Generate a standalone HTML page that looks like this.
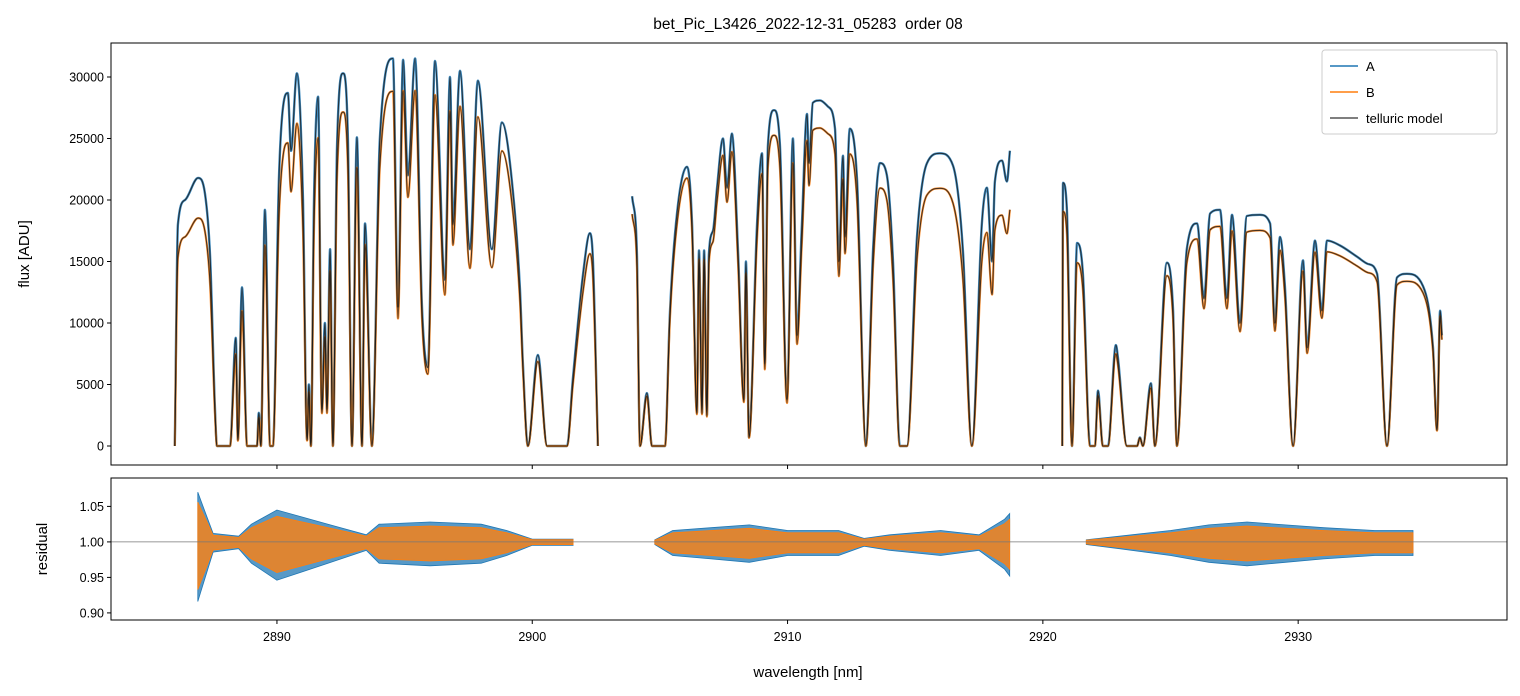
<!DOCTYPE html>
<html><head><meta charset="utf-8">
<style>
html,body{margin:0;padding:0;background:#fff;}
svg{display:block;font-family:"Liberation Sans","DejaVu Sans",sans-serif;}
</style></head>
<body>
<svg id="chart" width="1520" height="696" viewBox="0 0 1520 696">
<rect width="1520" height="696" fill="#fff"/>
<text x="808" y="29" font-size="15.5" text-anchor="middle" style="white-space:pre">bet_Pic_L3426_2022-12-31_05283  order 08</text>
<g id="topG"></g>
<g id="botG"></g>
<text transform="translate(29,254) rotate(-90)" font-size="15" text-anchor="middle">flux [ADU]</text>
<text transform="translate(47,549) rotate(-90)" font-size="15" text-anchor="middle">residual</text>
<text x="808" y="677" font-size="15" text-anchor="middle">wavelength [nm]</text>
<g id="legend">
<rect x="1322" y="50" width="175" height="84" rx="3" fill="#fff" fill-opacity="0.85" stroke="#ccc"/>
<line x1="1330" y1="66" x2="1358" y2="66" stroke="#1f77b4" stroke-width="1.5"/>
<text x="1366" y="71" font-size="13">A</text>
<line x1="1330" y1="92" x2="1358" y2="92" stroke="#ff7f0e" stroke-width="1.5"/>
<text x="1366" y="97" font-size="13">B</text>
<line x1="1330" y1="118" x2="1358" y2="118" stroke="#555" stroke-width="1.5"/>
<text x="1366" y="123" font-size="13">telluric model</text>
</g>
</svg>
<script>
// ---- data ----
const wavelengths = [2886.00,2886.12,2886.40,2886.91,2887.18,2887.38,2887.57,2887.65,2888.16,2888.39,2888.47,2888.63,2888.83,2889.22,2889.29,2889.37,2889.53,2889.73,2889.84,2890.08,2890.24,2890.43,2890.55,2890.78,2891.02,2891.18,2891.25,2891.33,2891.45,2891.61,2891.76,2891.88,2891.96,2892.08,2892.19,2892.35,2892.59,2892.78,2892.94,2893.13,2893.33,2893.45,2893.72,2894.03,2894.54,2894.74,2894.94,2895.13,2895.41,2895.68,2895.91,2896.19,2896.58,2896.78,2896.89,2897.17,2897.56,2897.87,2898.42,2898.81,2899.24,2899.52,2899.64,2899.83,2900.22,2900.58,2901.36,2901.59,2901.99,2902.26,2902.38,2902.57,null,
2903.91,2904.10,2904.22,2904.49,2904.69,2905.20,2905.39,2905.67,2906.06,2906.26,2906.45,2906.53,2906.65,2906.73,2906.84,2906.92,2907.08,2907.23,2907.47,2907.63,2907.82,2908.06,2908.29,2908.37,2908.49,2908.80,2909.00,2909.11,2909.23,2909.47,2909.70,2909.98,2910.21,2910.37,2910.56,2910.76,2910.84,2910.99,2911.27,2911.58,2911.86,2912.01,2912.17,2912.25,2912.44,2912.72,2913.07,2913.35,2913.62,2913.89,2914.13,2914.40,2914.68,2915.07,2915.46,2915.97,2916.48,2916.87,2917.22,2917.61,2917.81,2918.01,2918.12,2918.40,2918.59,2918.71,null,
2920.76,2920.79,2920.94,2921.14,2921.34,2921.57,2921.85,2922.04,2922.16,2922.35,2922.55,2922.86,2922.94,2923.29,2923.69,2923.80,2923.92,2924.23,2924.39,2924.86,2925.10,2925.25,2925.64,2926.04,2926.31,2926.55,2926.94,2927.21,2927.41,2927.72,2927.99,2928.50,2928.90,2929.09,2929.29,2929.48,2929.80,2930.19,2930.35,2930.66,2930.93,2931.13,2931.64,2932.30,2932.74,2933.09,2933.48,2933.87,2934.26,2934.89,2935.28,2935.44,2935.56,2935.63];
const fluxA = [0,18000,20000,21800,20500,15400,3200,0,0,8800,500,12900,0,0,2700,0,19200,0,0,21900,27600,28700,24000,30300,20000,500,5000,0,20000,28400,3000,10000,3000,16000,0,24000,30300,25000,0,25100,0,18100,0,24900,31500,11300,31400,22000,31500,11300,6400,31300,13500,30000,18000,30500,16000,29700,16000,26300,20800,12700,6400,0,7400,0,0,5400,14000,17300,15000,0,null,
20300,15700,0,4300,0,0,10800,18900,22700,18000,2700,15900,2700,15900,2500,15600,17500,20800,25000,21000,25400,15900,3800,15000,700,17800,23800,6700,24400,27300,24500,3800,25000,9000,18000,27000,23000,27900,28100,27600,25800,15000,23600,17000,25800,21700,0,16000,23000,22000,15000,0,0,17000,23000,23800,22800,15900,0,18000,21000,15000,21500,23200,21500,24000,null,
0,21400,19200,0,16500,14000,0,0,4500,0,0,8200,7200,0,0,700,0,5100,0,14900,11000,0,16000,18100,12000,18900,19200,12000,18800,10000,18700,18800,18100,10000,17000,13000,0,15100,8000,16700,11000,16700,16300,15400,14800,14000,0,13700,14000,13000,8000,1300,11000,9000];
const ratioWl = [2886, 2890, 2892, 2895, 2898, 2900, 2902, 2906, 2910, 2913, 2916, 2918.7, 2921, 2925, 2928, 2932, 2935.6];
const ratioB  = [0.85, 0.85, 0.89, 0.92, 0.9, 0.93, 0.9, 0.96, 0.92, 0.92, 0.88, 0.80, 0.9, 0.93, 0.93, 0.95, 0.96];
const residWl  = [2886.9,2887.0,2887.5,2888.5,2889.0,2890.0,2891.0,2892.0,2893.5,2894.0,2896.0,2898.0,2899.0,2900.0,2901.6,null,2904.8,2905.5,2907.0,2908.5,2910.0,2912.0,2913.0,2914.0,2916.0,2917.5,2918.5,2918.7,null,2921.7,2923.0,2925.0,2926.5,2928.0,2929.5,2931.0,2933.0,2934.5];
const residAmp = [0.07,0.06,0.012,0.008,0.025,0.045,0.035,0.025,0.01,0.025,0.028,0.025,0.016,0.004,0.004,null,0.003,0.016,0.02,0.024,0.016,0.016,0.005,0.01,0.016,0.01,0.032,0.04,null,0.003,0.008,0.016,0.024,0.028,0.024,0.02,0.016,0.016];
const fluxTicks = [0,5000,10000,15000,20000,25000,30000];
const residTicks = [0.90,0.95,1.00,1.05];
const wlTicks = [2890,2900,2910,2920,2930];

// ---- axes ----
const X0=111,X1=1507, WLmin=2883.5, WLmax=2938.18;
const xs = w => X0 + (w-WLmin)/(WLmax-WLmin)*(X1-X0);
const T0=43,T1=465, Fmin=-1545, Fmax=32764;
const yf = f => T1 - (f-Fmin)/(Fmax-Fmin)*(T1-T0);
const B0=478,B1=620, Rmin=0.89, Rmax=1.090;
const yr = r => B1 - (r-Rmin)/(Rmax-Rmin)*(B1-B0);
const NS='http://www.w3.org/2000/svg';
function mk(tag, parent, attrs){const e=document.createElementNS(NS,tag);for(const k in attrs)e.setAttribute(k,attrs[k]);parent.appendChild(e);return e;}
function interp(xa, ya, x){ if(x<=xa[0])return ya[0]; for(let i=1;i<xa.length;i++){ if(x<=xa[i]){const t=(x-xa[i-1])/(xa[i]-xa[i-1]);return ya[i-1]+t*(ya[i]-ya[i-1]);} } return ya[ya.length-1]; }
// monotone cubic path for a segment of pixel points
function monoPath(P){
  const n=P.length; if(n<2) return '';
  const d=[],m=new Array(n);
  for(let i=0;i<n-1;i++) d.push((P[i+1][1]-P[i][1])/(P[i+1][0]-P[i][0]));
  m[0]=d[0]; m[n-1]=d[n-2];
  for(let i=1;i<n-1;i++){ m[i]=(d[i-1]*d[i]<=0)?0:(d[i-1]+d[i])/2; }
  for(let i=0;i<n-1;i++){ if(d[i]===0){m[i]=0;m[i+1]=0;continue;} const a=m[i]/d[i],b=m[i+1]/d[i],s=a*a+b*b; if(s>9){const t=3/Math.sqrt(s);m[i]=t*a*d[i];m[i+1]=t*b*d[i];} }
  let s='M'+P[0][0].toFixed(1)+','+P[0][1].toFixed(1);
  for(let i=0;i<n-1;i++){ const h=(P[i+1][0]-P[i][0])/3;
    s+='C'+(P[i][0]+h).toFixed(1)+','+(P[i][1]+m[i]*h).toFixed(1)+' '+(P[i+1][0]-h).toFixed(1)+','+(P[i+1][1]-m[i+1]*h).toFixed(1)+' '+P[i+1][0].toFixed(1)+','+P[i+1][1].toFixed(1); }
  return s;
}
function pathFrom(scaleFn){ let out='',seg=[]; for(let i=0;i<wavelengths.length;i++){ const w=wavelengths[i]; if(w===null||fluxA[i]===null){out+=monoPath(seg);seg=[];continue;} seg.push([xs(w),yf(scaleFn(fluxA[i],w))]); } out+=monoPath(seg); return out; }

const topG=document.getElementById('topG'), botG=document.getElementById('botG');
const svgEl=document.getElementById('chart');
const defs=mk('defs',svgEl,{});
const c1=mk('clipPath',defs,{id:'ct'}); mk('rect',c1,{x:X0,y:T0,width:X1-X0,height:T1-T0});
const c2=mk('clipPath',defs,{id:'cb'}); mk('rect',c2,{x:X0,y:B0,width:X1-X0,height:B1-B0});

const gT=mk('g',topG,{'clip-path':'url(#ct)'});
const pa=mk('path',gT,{d:pathFrom((f)=>f),fill:'none',stroke:'#1f77b4','stroke-width':2.4,'stroke-opacity':0.85,'stroke-linejoin':'round'});


const pb=mk('path',gT,{d:pathFrom((f,w)=>f*interp(ratioWl,ratioB,w)),fill:'none',stroke:'#ff7f0e','stroke-width':2.2,'stroke-opacity':0.85,'stroke-linejoin':'round'});


const ma=mk('path',gT,{d:pathFrom((f)=>f),fill:'none',stroke:'#1a1a1a','stroke-width':1.1,'stroke-opacity':0.8});


const mb=mk('path',gT,{d:pathFrom((f,w)=>f*interp(ratioWl,ratioB,w)),fill:'none',stroke:'#1a1a1a','stroke-width':1.1,'stroke-opacity':0.8});



const gB=mk('g',botG,{'clip-path':'url(#cb)'});
function bandPath(scale){ let segs=[],cur=[]; for(let i=0;i<residWl.length;i++){ if(residWl[i]===null){segs.push(cur);cur=[];continue;} cur.push([residWl[i],residAmp[i]*scale]); } segs.push(cur);
 let d=''; segs.forEach(s=>{ if(!s.length)return; s.forEach((p,j)=>{d+=(j?'L':'M')+xs(p[0]).toFixed(1)+','+yr(1+p[1]).toFixed(1);}); for(let j=s.length-1;j>=0;j--){d+='L'+xs(s[j][0]).toFixed(1)+','+yr(1-s[j][1]*1.2).toFixed(1);} d+='Z'; }); return d; }
const ra=mk('path',gB,{d:bandPath(1.0),fill:'#1f77b4','fill-opacity':0.75,stroke:'#1f77b4','stroke-width':0.8});


const rb=mk('path',gB,{d:bandPath(0.8),fill:'#ff7f0e','fill-opacity':0.8,stroke:'#ff7f0e','stroke-width':0.8});


const refLine=mk('line',gB,{x1:X0,x2:X1,y1:yr(1),y2:yr(1),stroke:'#777','stroke-width':0.8});



const f1=mk('rect',topG,{x:X0,y:T0,width:X1-X0,height:T1-T0,fill:'none',stroke:'#000','stroke-width':1});


const f2=mk('rect',botG,{x:X0,y:B0,width:X1-X0,height:B1-B0,fill:'none',stroke:'#000','stroke-width':1});



fluxTicks.forEach(t=>{ const y=yf(t);
 mk('line',topG,{x1:X0-4,x2:X0,y1:y,y2:y,stroke:'#000'});
 const tx=mk('text',topG,{x:X0-7,y:y+4.5,'font-size':12.5,'text-anchor':'end'}); tx.textContent=t;
 
  });
residTicks.forEach(t=>{ const y=yr(t);
 mk('line',botG,{x1:X0-4,x2:X0,y1:y,y2:y,stroke:'#000'});
 const tx=mk('text',botG,{x:X0-7,y:y+4.5,'font-size':12.5,'text-anchor':'end'}); tx.textContent=t.toFixed(2);
 
  });
wlTicks.forEach(t=>{ const x=xs(t);
 mk('line',topG,{x1:x,x2:x,y1:T1,y2:T1+4,stroke:'#000'});
 mk('line',botG,{x1:x,x2:x,y1:B1,y2:B1+4,stroke:'#000'});
 const tx=mk('text',botG,{x:x,y:B1+21,'font-size':12.5,'text-anchor':'middle'}); tx.textContent=t;
 
  });
svgEl.appendChild(document.getElementById('legend'));
</script>
</body></html>
